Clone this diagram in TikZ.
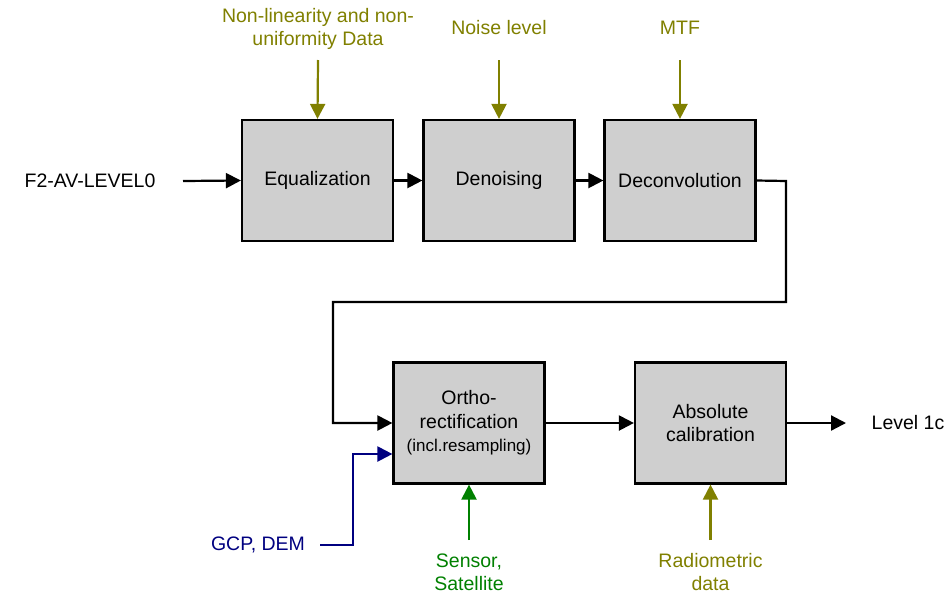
\documentclass[tikz,border=0pt]{standalone}
\usepackage{fontspec}
\setmainfont{Liberation Sans}
\usetikzlibrary{arrows.meta}
\definecolor{olv}{HTML}{808000}
\definecolor{nvy}{HTML}{000080}
\definecolor{grn}{HTML}{008000}
\definecolor{boxgray}{HTML}{CFCFCF}
\begin{document}
\begin{tikzpicture}[x=1pt,y=-1pt,
  procbox/.style={draw=black,line width=2.2pt,fill=boxgray,minimum width=151pt,minimum height=121pt,inner sep=0pt,align=center,font=\fontsize{19.5}{23.5}\selectfont},
  lbl/.style={align=center,inner sep=0pt,font=\fontsize{19.5}{23}\selectfont},
  conn/.style={line width=2.2pt,-{Triangle[length=15pt,width=15pt]}}]
\useasboundingbox (0,0) rectangle (944,595);
% boxes
\node[procbox] (eq) at (317.5,180.5) {Equalization};
\node[procbox] (dn) at (499,180.5) {Denoising};
\node[procbox] (dc) at (680,180.5) {Deconvolution};
\node[procbox] (or) at (469,423) {Ortho-\\rectification\\{\fontsize{17}{23.5}\selectfont(incl.resampling)}};
\node[procbox] (ac) at (710.5,423) {Absolute\\calibration};
% labels
\node[lbl] (in) at (90,181) {F2-AV-LEVEL0};
\node[lbl,olv] (nl) at (318,28.5) {Non-linearity and non-\\uniformity Data};
\node[lbl,olv] (ns) at (499,28) {Noise level};
\node[lbl,olv] (mtf) at (680,28) {MTF};
\node[lbl] (out) at (908,423) {Level 1c};
\node[lbl,nvy] (gcp) at (258,545) {GCP, DEM};
\node[lbl,grn] (sen) at (469,572.5) {Sensor,\\Satellite};
\node[lbl,olv] (rad) at (710.5,572.5) {Radiometric\\data};
% coordinates
\coordinate (inE) at (183,181);
\coordinate (nlS) at (318,60);
\coordinate (nsS) at (499,60);
\coordinate (mtfS) at (680,60);
\coordinate (gcpE) at (320,545);
\coordinate (senN) at (469,540);
\coordinate (radN) at (710.5,540);
\coordinate (outW) at (846,423);
% connectors
\draw[conn] (inE) -- (eq.west);
\draw[conn] (eq.east) -- (dn.west);
\draw[conn] (dn.east) -- (dc.west);
\draw[conn,olv] (nlS) -- (eq.north);
\draw[conn,olv] (nsS) -- (dn.north);
\draw[conn,olv] (mtfS) -- (dc.north);
\draw[conn] (dc.east) -- (786,181) -- (786,302) -- (333,302) -- (333,423) -- (or.west);
\draw[conn,nvy] (gcpE) -- (353,545) -- (353,454) -- (or.west |- 0,454);
\draw[conn,grn] (senN) -- (or.south);
\draw[conn,olv] (radN) -- (ac.south);
\draw[conn] (or.east) -- (ac.west);
\draw[conn] (ac.east) -- (outW);
\end{tikzpicture}
\end{document}
